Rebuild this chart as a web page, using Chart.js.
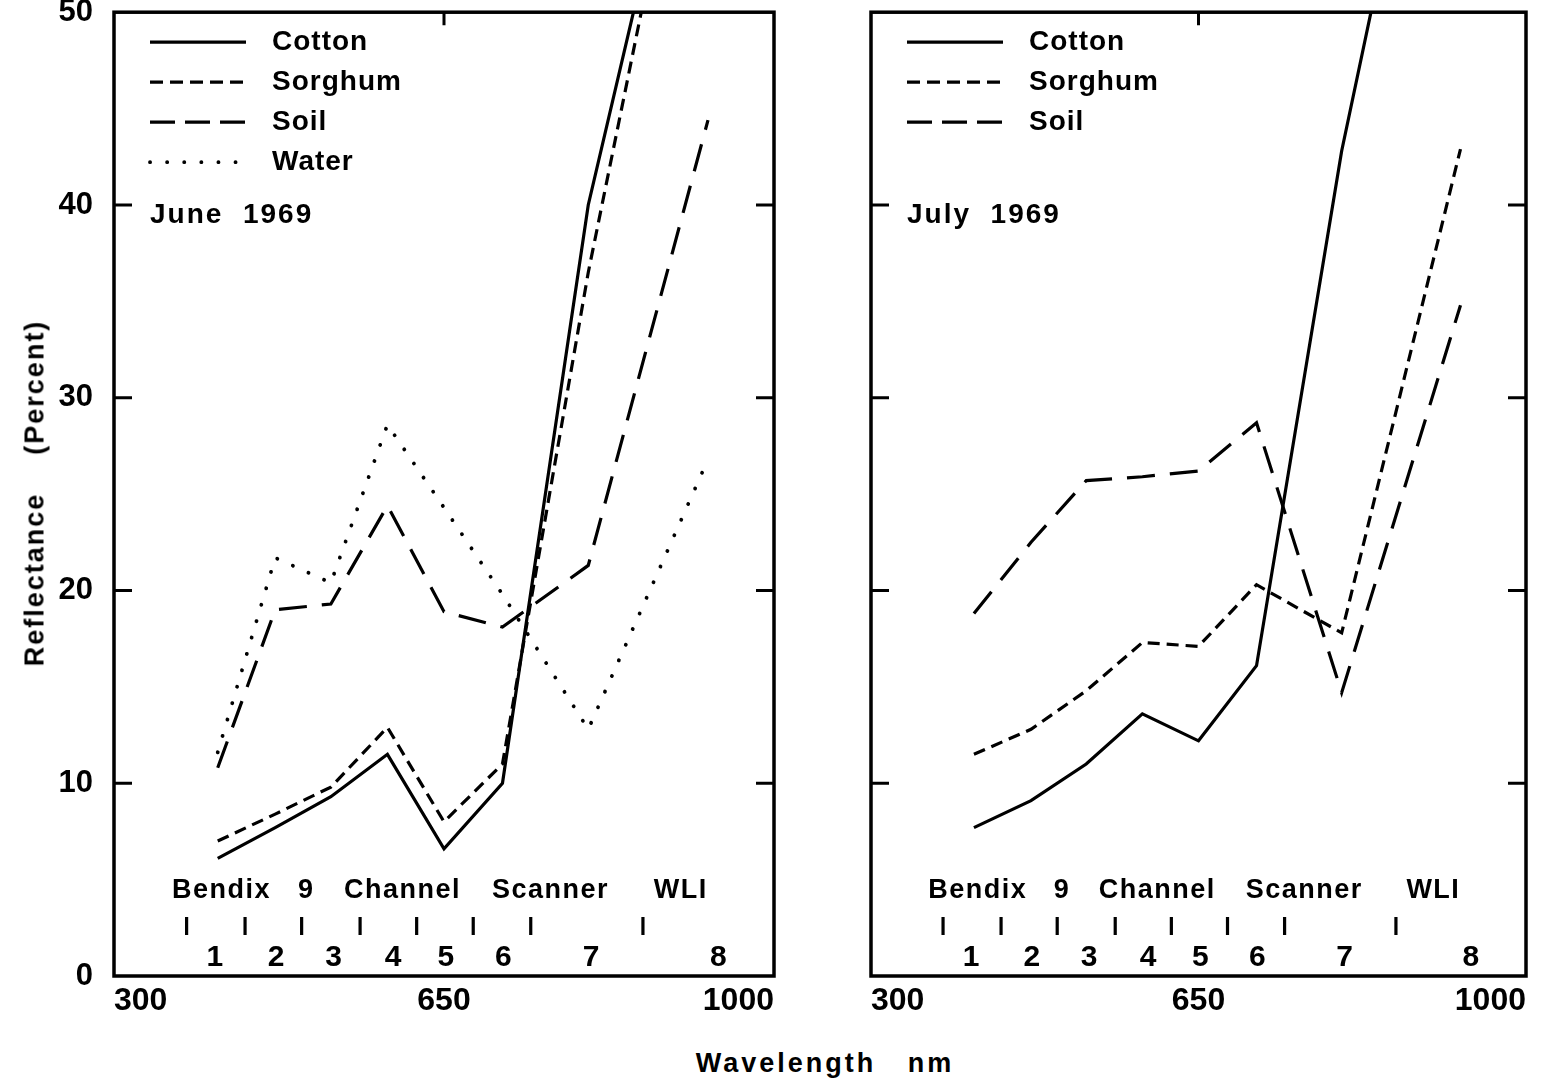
<!DOCTYPE html>
<html>
<head>
<meta charset="utf-8">
<title>Reflectance of cotton, sorghum, soil and water - June and July 1969</title>
<script src="https://cdn.jsdelivr.net/npm/chart.js@4.4.0/dist/chart.umd.min.js"></script>
<style>
  html, body { margin: 0; padding: 0; background: #fff; }
  body {
    width: 1541px; height: 1081px; position: relative; overflow: hidden;
    font-family: "Liberation Sans", Arial, sans-serif; font-weight: bold; color: #000;
  }
  canvas { position: absolute; top: 0; }
  #june { left: 0; }
  #july { left: 800px; }
  .ytitle {
    position: absolute; left: 35px; top: 493px;
    transform: translate(-50%, -50%) rotate(-90deg);
    white-space: pre; font-size: 27px; letter-spacing: 2px;
  }
  .xtitle {
    position: absolute; left: 825px; top: 1063px;
    transform: translate(-50%, -50%);
    white-space: pre; font-size: 27px; letter-spacing: 3px;
  }
</style>
</head>
<body>
<canvas id="june" width="790" height="1045"></canvas>
<canvas id="july" width="741" height="1045"></canvas>
<div class="ytitle">Reflectance    (Percent)</div>
<div class="xtitle">Wavelength   nm</div>

<script>
// axis ticks
const xTicks = [300, 650, 1000];
const yTicks = [0, 10, 20, 30, 40, 50];

// scanner channel centres (nm) where the reflectance was read
const channelNm = [410, 471, 530, 590, 650, 712, 803, 930];

// June 1969 reflectance (%)
const juneCotton  = [6.1, 7.7, 9.3, 11.5, 6.6, 10.0, 40.0, 66.5];
const juneSorghum = [7.0, 8.4, 9.8, 12.9, 8.0, 11.0, 36.5, 67.0];
const juneSoil    = [10.8, 19.0, 19.3, 24.4, 18.9, 18.1, 21.3, 44.4];
const juneWater   = [11.6, 21.7, 20.4, 28.6, 24.3, 19.8, 12.8, 26.8];

// July 1969 reflectance (%)
const julyCotton  = [7.7, 9.1, 11.0, 13.6, 12.2, 16.1, 42.8, 72.0];
const julySorghum = [11.5, 12.8, 14.8, 17.3, 17.1, 20.3, 17.8, 42.9];
const julySoil    = [18.8, 22.5, 25.7, 25.9, 26.2, 28.7, 14.7, 34.8];

// Bendix 9 channel scanner band limits and band numbers
const bandEdgeNm = [377, 439, 499, 561, 621, 681, 742, 861];
const bandNumbers = ["1", "2", "3", "4", "5", "6", "7", "8"];
const bandNumberNm = [407, 472, 533, 596, 652, 713, 806, 941];
const scannerWords = ["Bendix", "9", "Channel", "Scanner", "WLI"];
const scannerWordNm = [414, 504, 606, 763, 901];

const FONT = "'Liberation Sans', Arial, sans-serif";
Chart.defaults.font.family = FONT;
Chart.defaults.color = "#000";

const toPoints = (values) => values.map((v, i) => ({ x: channelNm[i], y: v }));

const lineSet = (label, values, dash, legendDash, extra) => Object.assign({
  label,
  data: toPoints(values),
  borderColor: "#000",
  borderWidth: 3.2,
  borderDash: dash,
  legendDash: legendDash,
  pointRadius: 0,
  tension: 0,
  fill: false
}, extra || {});

const bandMarks = () => ({
  label: "bands",
  data: bandEdgeNm.map(nm => ({ x: nm, y: 2.6 })),
  showLine: false,
  pointStyle: "line",
  pointRotation: 90,
  pointRadius: 9,
  pointBorderWidth: 3.2,
  pointBorderColor: "#000",
  borderColor: "#000",
  noLegend: true
});

const waterStyle = { borderCapStyle: "round", borderWidth: 3.8 };

// frame, inward ticks, scanner band labels, legend and month
const panelDecor = {
  id: "panelDecor",
  afterDatasetsDraw(chart, args, opts) {
    const { ctx, chartArea: a, scales: { x, y } } = chart;
    ctx.save();
    ctx.strokeStyle = "#000";
    ctx.fillStyle = "#000";
    ctx.lineWidth = 3.5;
    ctx.strokeRect(a.left, a.top, a.right - a.left, a.bottom - a.top);

    ctx.lineWidth = 3;
    ctx.beginPath();
    yTicks.slice(1, -1).forEach(v => {
      const py = y.getPixelForValue(v);
      ctx.moveTo(a.left, py); ctx.lineTo(a.left + 18, py);
      ctx.moveTo(a.right - 18, py); ctx.lineTo(a.right, py);
    });
    const px = x.getPixelForValue(650);
    ctx.moveTo(px, a.top); ctx.lineTo(px, a.top + 13);
    ctx.stroke();

    ctx.textAlign = "center";
    ctx.textBaseline = "middle";
    ctx.font = "bold 27px " + FONT;
    ctx.letterSpacing = "1.5px";
    scannerWords.forEach((w, i) => {
      ctx.fillText(w, x.getPixelForValue(scannerWordNm[i]), y.getPixelForValue(4.45));
    });
    ctx.font = "bold 30px " + FONT;
    ctx.letterSpacing = "0px";
    bandNumbers.forEach((n, i) => {
      ctx.fillText(n, x.getPixelForValue(bandNumberNm[i]), y.getPixelForValue(0.95));
    });

    // legend
    ctx.textAlign = "left";
    ctx.font = "bold 28px " + FONT;
    ctx.letterSpacing = "1px";
    const items = chart.data.datasets.filter(d => !d.noLegend);
    items.forEach((d, i) => {
      const ly = a.top + 30 + i * 40;
      ctx.save();
      ctx.lineWidth = d.borderWidth;
      ctx.lineCap = d.borderCapStyle || "butt";
      ctx.setLineDash(d.legendDash || []);
      ctx.beginPath();
      ctx.moveTo(a.left + 36, ly);
      ctx.lineTo(a.left + 132, ly);
      ctx.stroke();
      ctx.restore();
      ctx.fillText(d.label, a.left + 158, ly);
    });

    ctx.letterSpacing = "2px";
    ctx.fillText(opts.month, a.left + 36, a.top + 203);
    ctx.restore();
  }
};

function makeOptions(month, padLeft, padRight, showY) {
  return {
    responsive: false,
    animation: false,
    events: [],
    layout: { padding: { top: 12, right: padRight, bottom: 0, left: padLeft } },
    plugins: {
      legend: { display: false },
      tooltip: { enabled: false },
      panelDecor: { month }
    },
    scales: {
      x: {
        type: "linear",
        min: 300,
        max: 1000,
        afterBuildTicks: s => { s.ticks = xTicks.map(v => ({ value: v })); },
        afterFit: s => { s.height = 69; s.paddingLeft = 0; s.paddingRight = 0; },
        grid: { display: false, drawTicks: false },
        border: { display: false },
        ticks: {
          align: "inner",
          padding: 6,
          maxRotation: 0,
          autoSkip: false,
          color: "#000",
          font: { size: 32, weight: "bold" },
          callback: v => String(v)
        }
      },
      y: {
        display: showY,
        min: 0,
        max: 50,
        afterBuildTicks: s => { s.ticks = yTicks.map(v => ({ value: v })); },
        afterFit: s => { s.width = showY ? 114 : 0; s.paddingTop = 0; s.paddingBottom = 0; },
        grid: { display: false, drawTicks: false },
        border: { display: false },
        ticks: {
          padding: 21,
          color: "#000",
          font: { size: 31, weight: "bold" },
          callback: v => String(v)
        }
      }
    }
  };
}

new Chart(document.getElementById("june"), {
  type: "line",
  data: {
    datasets: [
      lineSet("Cotton", juneCotton, [], []),
      lineSet("Sorghum", juneSorghum, [12, 7], [13, 7]),
      lineSet("Soil", juneSoil, [28, 15], [25, 10]),
      lineSet("Water", juneWater, [0.1, 17], [0.1, 17], waterStyle),
      bandMarks()
    ]
  },
  options: makeOptions("June  1969", 0, 16, true),
  plugins: [panelDecor]
});

new Chart(document.getElementById("july"), {
  type: "line",
  data: {
    datasets: [
      lineSet("Cotton", julyCotton, [], []),
      lineSet("Sorghum", julySorghum, [12, 7], [13, 7]),
      lineSet("Soil", julySoil, [28, 15], [25, 10]),
      bandMarks()
    ]
  },
  options: makeOptions("July  1969", 71, 15, false),
  plugins: [panelDecor]
});
</script>
</body>
</html>
